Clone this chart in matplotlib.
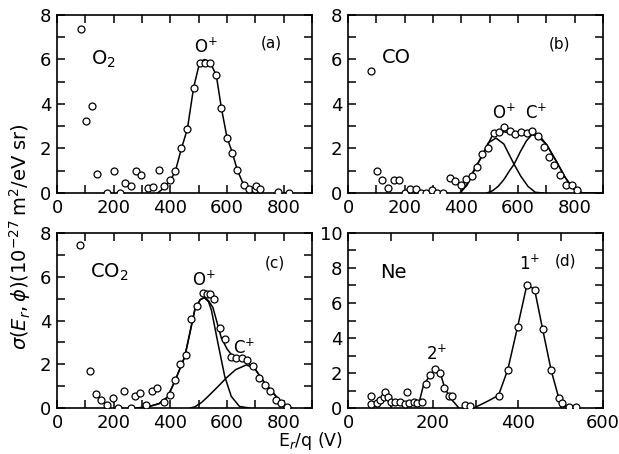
import matplotlib.pyplot as plt
from matplotlib.ticker import MultipleLocator

# ---- panel (a): O2 ----
a_x = [86, 101, 125, 141, 176, 200, 221, 241, 260, 278, 298, 321, 339, 360,
       378, 398, 418, 439, 460, 482, 504, 521, 539, 562, 580, 600, 619, 636,
       659, 678, 698, 701, 718, 780, 818]
a_y = [7.37, 3.25, 3.9, 0.85, 0.0, 1.0, 0.0, 0.45, 0.33, 1.0, 0.8, 0.23, 0.27,
       1.04, 0.33, 0.6, 1.0, 2.0, 2.87, 4.73, 5.85, 5.85, 5.85, 5.3, 3.82,
       2.49, 1.8, 1.04, 0.38, 0.18, 0.18, 0.32, 0.18, 0.06, 0.0]
a_fit_x = [355, 380, 400, 418, 439, 460, 482, 504, 521, 539, 562, 580, 600,
           619, 636, 659, 680, 700]
a_fit_y = [0.0, 0.25, 0.55, 1.0, 2.0, 2.87, 4.73, 5.9, 6.0, 5.9, 5.3, 3.82,
           2.49, 1.8, 1.04, 0.35, 0.05, 0.0]

# ---- panel (b): CO ----
b_x = [81, 103, 120, 141, 161, 181, 202, 220, 239, 257, 277, 297, 314, 335,
       361, 378, 398, 416, 436, 457, 474, 494, 514, 533, 551, 571, 591, 612,
       630, 650, 669, 690, 710, 727, 748, 769, 789, 809]
b_y = [5.5, 0.97, 0.58, 0.23, 0.58, 0.58, 0.0, 0.2, 0.2, 0.0, 0.0, 0.15, 0.0,
       0.0, 0.68, 0.55, 0.35, 0.65, 0.77, 1.18, 1.76, 2.0, 2.7, 2.73, 2.97,
       2.79, 2.65, 2.73, 2.7, 2.8, 2.55, 2.06, 1.64, 1.26, 0.83, 0.38, 0.35,
       0.12]
b_sum_x = [395, 420, 447, 470, 482, 500, 511, 530, 550, 570, 586, 610, 630,
           655, 680, 701, 736, 765, 794, 828, 870]
b_sum_y = [0.0, 0.4, 1.1, 1.6, 1.86, 2.35, 2.62, 2.7, 2.75, 2.7, 2.68, 2.7,
           2.72, 2.77, 2.5, 2.17, 1.41, 0.73, 0.2, 0.0, 0.0]
b_o_x = [395, 420, 447, 470, 495, 522, 550, 586, 610, 635, 661, 690]
b_o_y = [0.0, 0.35, 1.05, 1.6, 2.25, 2.47, 2.2, 1.29, 0.75, 0.3, 0.03, 0.0]
b_c_x = [490, 510, 530, 550, 570, 586, 610, 630, 649, 670, 701, 736, 765,
         794, 828, 870]
b_c_y = [0.0, 0.1, 0.3, 0.6, 1.0, 1.29, 1.9, 2.35, 2.62, 2.55, 2.17, 1.41,
         0.73, 0.2, 0.0, 0.0]

# ---- panel (c): CO2 ----
c_x = [80, 115, 139, 156, 178, 198, 215, 235, 260, 274, 294, 315, 335, 354,
       376, 398, 418, 435, 454, 474, 494, 515, 528, 540, 553, 574, 594, 613,
       633, 653, 671, 692, 712, 733, 753, 772, 792, 812]
c_y = [7.47, 1.71, 0.65, 0.38, 0.15, 0.46, 0.0, 0.8, 0.0, 0.53, 0.68, 0.15,
       0.8, 0.91, 0.26, 0.6, 1.29, 2.02, 2.43, 4.05, 4.66, 5.27, 5.2, 5.2,
       4.99, 3.64, 3.14, 2.32, 2.28, 2.28, 2.2, 1.94, 1.37, 1.03, 0.8, 0.38,
       0.23, 0.05]
c_sum_x = [280, 320, 360, 390, 418, 451, 486, 505, 520, 535, 550, 565, 580,
           600, 621, 645, 668, 697, 733, 768, 803, 830]
c_sum_y = [0.0, 0.05, 0.2, 0.5, 1.29, 2.35, 4.47, 4.95, 5.05, 4.9, 4.6, 3.9,
           3.2, 2.7, 2.35, 2.2, 2.12, 1.82, 1.14, 0.61, 0.07, 0.0]
c_o_x = [280, 320, 360, 390, 418, 451, 486, 505, 520, 535, 545, 568, 592,
         615, 644, 680]
c_o_y = [0.0, 0.05, 0.2, 0.5, 1.29, 2.35, 4.47, 4.95, 5.05, 4.85, 4.47, 2.96,
         1.44, 0.53, 0.07, 0.0]
c_c_x = [470, 486, 510, 533, 568, 597, 630, 668, 697, 733, 768, 803, 830]
c_c_y = [0.0, 0.05, 0.25, 0.53, 0.98, 1.37, 1.75, 1.97, 1.82, 1.14, 0.61,
         0.07, 0.0]

# ---- panel (d): Ne ----
d_x = [53, 55, 68, 76, 84, 88, 93, 100, 111, 122, 133, 139, 144, 155, 162,
       174, 184, 194, 205, 217, 225, 237, 245, 275, 288, 355, 376, 399, 421,
       439, 458, 478, 496, 504, 519, 537]
d_y = [0.71, 0.24, 0.28, 0.47, 0.62, 0.9, 0.62, 0.37, 0.36, 0.36, 0.24, 0.9,
       0.28, 0.32, 0.28, 0.37, 1.35, 1.87, 2.24, 2.0, 1.12, 0.71, 0.71, 0.2,
       0.11, 0.69, 2.2, 4.64, 7.05, 6.77, 4.49, 2.15, 0.56, 0.26, 0.07, 0.07]
d_2p_x = [165, 178, 194, 205, 217, 228, 241, 260]
d_2p_y = [0.1, 1.35, 1.87, 2.24, 2.0, 1.12, 0.56, 0.03]
d_1p_x = [296, 327, 354, 376, 399, 421, 439, 458, 478, 496, 507, 525]
d_1p_y = [0.0, 0.37, 0.72, 2.2, 4.64, 7.05, 6.77, 4.49, 2.15, 0.56, 0.13, 0.0]

plt.rcParams["font.family"] = "DejaVu Sans"
plt.rcParams["mathtext.fontset"] = "dejavusans"

fig = plt.figure(figsize=(6.19, 4.54), dpi=100)
ax_a = fig.add_axes([0.0921, 0.5749, 0.4120, 0.3921])
ax_b = fig.add_axes([0.5622, 0.5749, 0.4120, 0.3921])
ax_c = fig.add_axes([0.0921, 0.1013, 0.4120, 0.3855])
ax_d = fig.add_axes([0.5622, 0.1013, 0.4120, 0.3855])

mk = dict(ls="none", marker="o", ms=5, mfc="white", mec="black", mew=0.9,
          zorder=3)
ln = dict(color="black", lw=1.1, zorder=2)


def style(ax, xmax, ymax):
    ax.set_xlim(0, xmax)
    ax.set_ylim(0, ymax)
    ax.xaxis.set_major_locator(MultipleLocator(200))
    ax.xaxis.set_minor_locator(MultipleLocator(100))
    ax.yaxis.set_major_locator(MultipleLocator(2))
    ax.yaxis.set_minor_locator(MultipleLocator(1))
    ax.tick_params(which="both", direction="in", top=True, right=True,
                   length=6, width=1.1, labelsize=13, pad=4)
    for s in ax.spines.values():
        s.set_linewidth(1.2)


# (a)
ax_a.plot(a_fit_x, a_fit_y, **ln)
ax_a.plot(a_x, a_y, **mk)
style(ax_a, 900, 8)
ax_a.text(121, 6.0, r"O$_2$", fontsize=14, va="center")
ax_a.text(527, 6.55, r"$\mathrm{O}^{+}$", fontsize=12, ha="center", va="center")
ax_a.text(756, 6.75, "(a)", fontsize=11, ha="center", va="center")

# (b)
ax_b.plot(b_sum_x, b_sum_y, **ln)
ax_b.plot(b_o_x, b_o_y, **ln)
ax_b.plot(b_c_x, b_c_y, **ln)
ax_b.plot(b_x, b_y, **mk)
style(ax_b, 900, 8)
ax_b.text(121, 6.1, "CO", fontsize=14, va="center")
ax_b.text(551, 3.6, r"$\mathrm{O}^{+}$", fontsize=12, ha="center", va="center")
ax_b.text(665, 3.6, r"$\mathrm{C}^{+}$", fontsize=12, ha="center", va="center")
ax_b.text(748, 6.7, "(b)", fontsize=11, ha="center", va="center")

# (c)
ax_c.plot(c_sum_x, c_sum_y, **ln)
ax_c.plot(c_o_x, c_o_y, **ln)
ax_c.plot(c_c_x, c_c_y, **ln)
ax_c.plot(c_x, c_y, **mk)
style(ax_c, 900, 8)
ax_c.text(118, 6.18, r"CO$_2$", fontsize=14, va="center")
ax_c.text(518, 5.84, r"$\mathrm{O}^{+}$", fontsize=12, ha="center", va="center")
ax_c.text(662, 2.73, r"$\mathrm{C}^{+}$", fontsize=12, ha="center", va="center")
ax_c.text(768, 6.63, "(c)", fontsize=11, ha="center", va="center")

# (d)
ax_d.plot(d_2p_x, d_2p_y, **ln)
ax_d.plot(d_1p_x, d_1p_y, **ln)
ax_d.plot(d_x, d_y, **mk)
style(ax_d, 600, 10)
ax_d.text(76, 7.76, "Ne", fontsize=14, va="center")
ax_d.text(209, 3.1, r"$\mathrm{2}^{+}$", fontsize=12, ha="center", va="center")
ax_d.text(427, 8.2, r"$\mathrm{1}^{+}$", fontsize=12, ha="center", va="center")
ax_d.text(511, 8.4, "(d)", fontsize=11, ha="center", va="center")

fig.text(0.032, 0.48, r"$\sigma(E_r,\phi)(10^{-27}\,\mathrm{m^2/eV\ sr})$",
         rotation=90, fontsize=14, ha="center", va="center")
fig.text(0.502, 0.004, r"E$_r$/q (V)", fontsize=12.5, ha="center", va="bottom")

fig.savefig("out.png", dpi=100)
